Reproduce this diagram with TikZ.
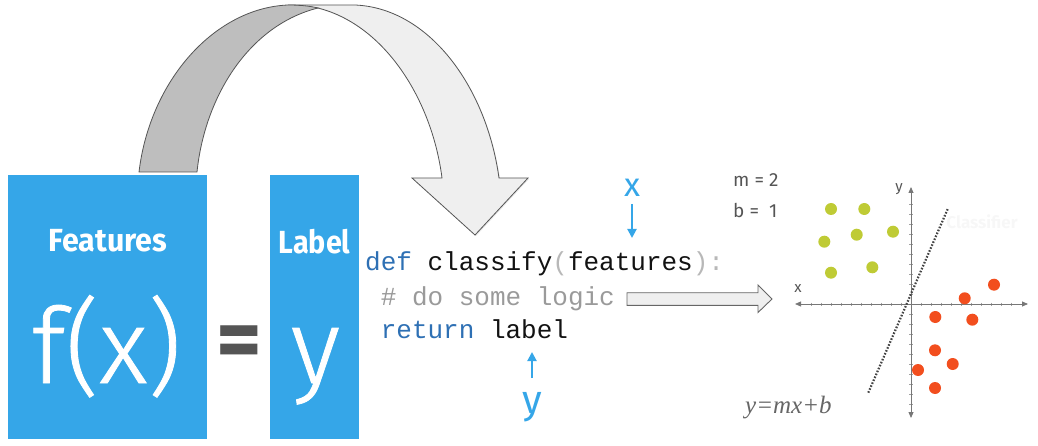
\documentclass[tikz,border=0pt]{standalone}
\usepackage{fontspec}
\setmainfont{Fira Sans}
\newfontfamily\lightfont[FakeBold=0.8]{Fira Sans Light}
\newfontfamily\codefont{Liberation Mono}
\newfontfamily\eqfont{Liberation Serif}
\usetikzlibrary{arrows.meta,shadows}
\definecolor{boxblue}{HTML}{35A6E8}
\definecolor{kwblue}{HTML}{2E70B4}
\definecolor{pngray}{HTML}{B8B8B8}
\definecolor{cmgray}{HTML}{9A9A9A}
\definecolor{eqgray}{HTML}{555555}
\definecolor{dotgreen}{HTML}{BFCB35}
\definecolor{dotred}{HTML}{F24E1E}
\definecolor{axgray}{HTML}{777777}
\definecolor{arrdark}{HTML}{BEBEBE}
\definecolor{arrlight}{HTML}{EFEFEF}
\tikzset{
  bluebox/.style={fill=boxblue, draw=none, anchor=north west, inner sep=0pt},
  whitetitle/.style={text=white, font=\fontsize{32}{32}\selectfont\bfseries, inner sep=0pt, anchor=base},
  bigletter/.style={text=white, font=\fontsize{105}{105}\selectfont\lightfont, inner sep=0pt, anchor=base},
  codeline/.style={font=\fontsize{26}{26}\selectfont\codefont, text=black!93, inner sep=0pt, anchor=base west},
  bluelbl/.style={text=boxblue, inner sep=0pt, anchor=base},
  bluearrow/.style={draw=boxblue, line width=2pt, -{Triangle[width=9pt,length=9pt]}},
  ribbon/.style={draw=eqgray, line width=0.8pt},
  axisline/.style={draw=axgray, line width=0.8pt, {Triangle[width=5pt,length=6pt]}-{Triangle[width=5pt,length=6pt]}},
  tick/.style={draw=axgray!70, line width=0.5pt},
  greendot/.style={circle, fill=dotgreen, minimum size=12pt, inner sep=0pt},
  reddot/.style={circle, fill=dotred, minimum size=12pt, inner sep=0pt},
  plottext/.style={text=eqgray, font=\fontsize{19}{19}\selectfont, inner sep=0pt, anchor=base west},
}
\begin{document}
\begin{tikzpicture}[x=1pt,y=-1pt]
\useasboundingbox (0,0) rectangle (1038,446);

% curved ribbon arrow
\path[ribbon, fill=arrlight, drop shadow={opacity=0.2, shadow xshift=1pt, shadow yshift=-1pt}]
  (288,5) -- (355,5) .. controls (428,8) and (486,85) .. (499,178)
  -- (528,178) -- (475,235) -- (412,178) -- (442,178)
  .. controls (432,100) and (385,25) .. (318,8) -- cycle;
\path[ribbon, fill=arrdark]
  (139,172) .. controls (150,80) and (215,8) .. (288,5)
  .. controls (300,5) and (310,6) .. (318,8)
  .. controls (250,25) and (205,95) .. (197,172) -- cycle;

% blue boxes
\node[bluebox, minimum width=199pt, minimum height=264pt] (fbox) at (8,175) {};
\node[bluebox, minimum width=89pt, minimum height=264pt] (lbox) at (270,175) {};
\node[whitetitle] (ftitle) at (108,252) {\scalebox{0.95}[1]{Features}};
\node[whitetitle] (ltitle) at (314.5,254) {\scalebox{0.9}[1]{Label}};
\node[bigletter] (fx) at (106.5,383) {f(x)};
\node[bigletter] (yy) at (315.5,383) {y};
\node[text=eqgray, font=\fontsize{88}{88}\selectfont\bfseries, inner sep=0pt] (eq) at (239.5,348) {=};

% code
\node[codeline] (l1) at (365,270) {\textcolor{kwblue}{def} classify\textcolor{pngray}{(}features\textcolor{pngray}{):}};
\node[codeline, text=cmgray] (l2) at (380.6,305) {\# do some logic};
\node[codeline] (l3) at (380.6,338) {\textcolor{kwblue}{return} label};

% x / y arrows
\node[bluelbl, font=\fontsize{33}{33}\selectfont] (xl) at (632,197) {x};
\coordinate (xa) at (632,238);
\draw[bluearrow] (632,204) -- (xa);
\node[bluelbl, font=\fontsize{40}{40}\selectfont] (yl) at (532,413) {y};
\coordinate (ya) at (532,352);
\draw[bluearrow] (532,378) -- (ya);

% block arrow
\path[draw=eqgray!90, line width=0.9pt, fill=arrlight]
  (627,292.7) -- (758,292.7) -- (758,285) -- (772,299) -- (758,312.5)
  -- (758,305.3) -- (627,305.3) -- cycle;

% plot
\foreach \k in {1,...,10} {
  \draw[tick] (911-10*\k,302.5) -- (911-10*\k,306);
  \draw[tick] (911+10*\k,302.5) -- (911+10*\k,306);
  \draw[tick] (909,304-10*\k) -- (912.5,304-10*\k);
  \draw[tick] (909,304+10*\k) -- (912.5,304+10*\k);
}
\draw[axisline] (795,304) -- (1028,304);
\draw[axisline] (911,187) -- (911,418);
\node[text=eqgray, font=\fontsize{15}{15}\selectfont, inner sep=0pt] (xax) at (798,289) {x};
\node[text=eqgray, font=\fontsize{15}{15}\selectfont, inner sep=0pt] (yax) at (899,189) {y};

\draw[draw=eqgray!80!black, line width=2.2pt, dash pattern=on 1.6pt off 1.6pt] (868.3,392.7) -- (948,208.3);

\node[greendot] (g1) at (831,209) {};
\node[greendot] (g2) at (864.3,209) {};
\node[greendot] (g3) at (824.3,241.7) {};
\node[greendot] (g4) at (856.7,234.7) {};
\node[greendot] (g5) at (893,231.7) {};
\node[greendot] (g6) at (831,272.7) {};
\node[greendot] (g7) at (872.3,267.3) {};

\node[reddot] (r1) at (994,284.7) {};
\node[reddot] (r2) at (964.7,298.3) {};
\node[reddot] (r3) at (935.3,317) {};
\node[reddot] (r4) at (972.3,319.7) {};
\node[reddot] (r5) at (935,350.3) {};
\node[reddot] (r6) at (952.7,364) {};
\node[reddot] (r7) at (918,370) {};
\node[reddot] (r8) at (935,388) {};

\node[text=black!3, font=\fontsize{17}{17}\selectfont\bfseries, inner sep=0pt] (cls) at (982,222) {Classifier};
\node[plottext] (mm) at (733,187) {m = 2};
\node[plottext] (bb) at (733,218) {b = \ 1};
\node[text=eqgray!90, font=\fontsize{25}{25}\selectfont\eqfont\itshape, inner sep=0pt, anchor=base west] (eqn) at (745,413) {y=mx+b};
\end{tikzpicture}
\end{document}
